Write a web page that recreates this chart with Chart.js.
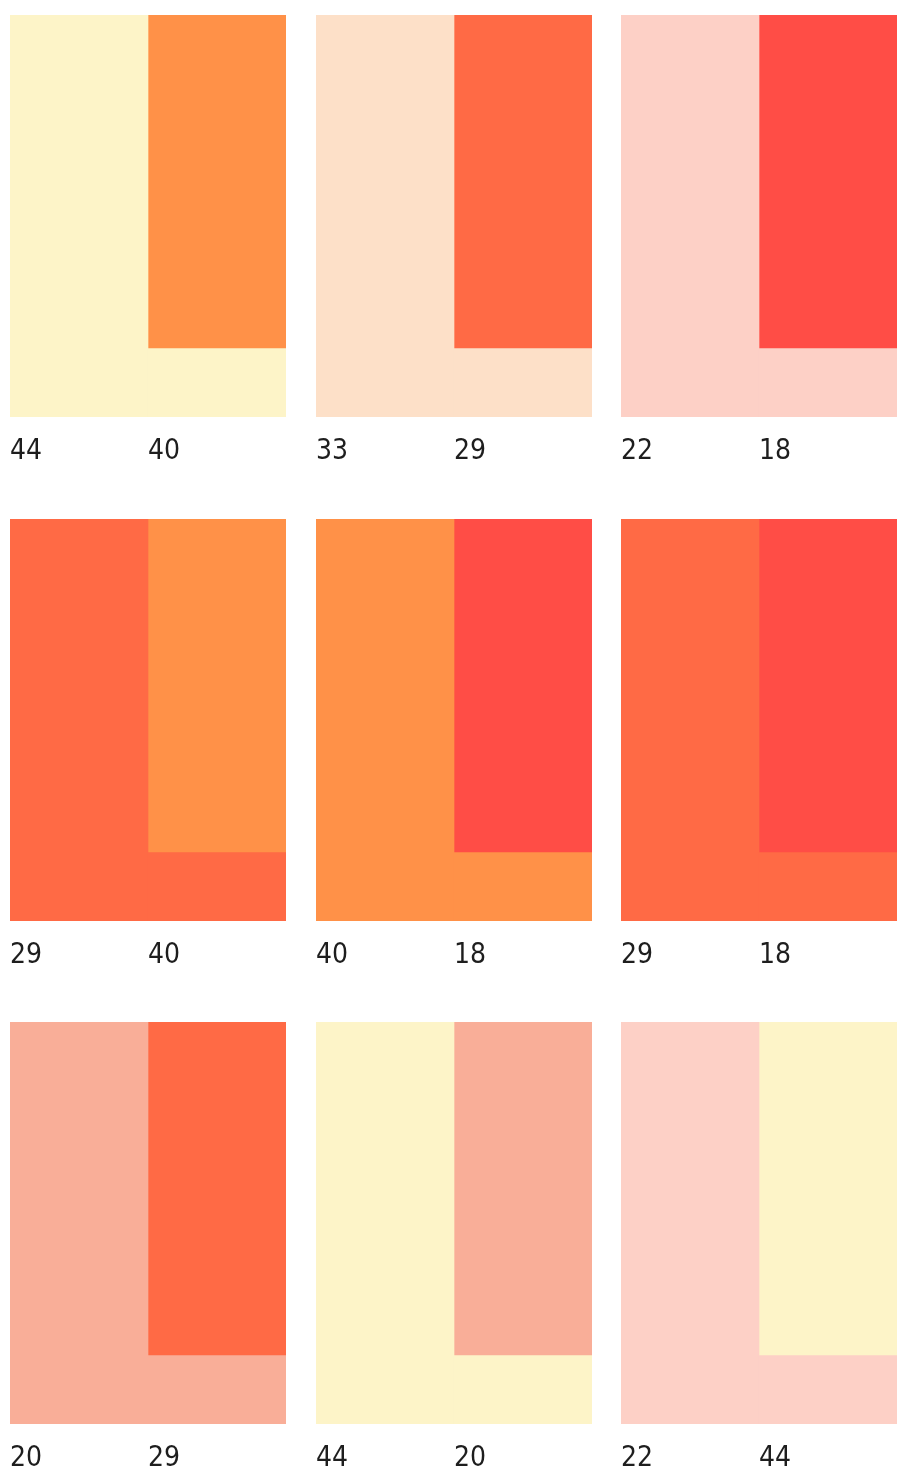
<!DOCTYPE html>
<html>
<head>
<meta charset="utf-8">
<script src="https://cdn.jsdelivr.net/npm/chart.js@4/dist/chart.umd.min.js"></script>
<style>
html, body { margin: 0; padding: 0; background: #ffffff; width: 898px; height: 1480px; overflow: hidden; }
.panel { position: absolute; }
canvas { display: block; }
</style>
</head>
<body>
<script>
// ---- data ----
const outerValues = [44, 33, 22, 29, 40, 29, 20, 44, 22];
const innerValues = [40, 29, 18, 40, 18, 18, 29, 20, 44];
const innerShare = 83;          // height of the inner block, % of the panel
const fullHeight = 100;

// ---- styles ----
const swatchColors = {
  44: '#FDF4C8',
  40: '#FF9148',
  33: '#FDE0C8',
  29: '#FF6A45',
  22: '#FDD0C6',
  18: '#FF4D46',
  20: '#F9AE98'
};

// ---- layout ----
const columnLefts = [10, 316, 621];
const rowTops = [15, 519, 1022];
const panelWidth = 276;
const panelHeight = 402;
const labelArea = 60;
const tickPad = 18;   // Chart.js also adds tick padding on left/right of the axis
const labelFont = '"Liberation Sans Narrow", "DejaVu Sans Condensed", sans-serif';

outerValues.forEach((outer, i) => {
  const inner = innerValues[i];
  const div = document.createElement('div');
  div.className = 'panel';
  div.style.left = (columnLefts[i % 3] - tickPad) + 'px';
  div.style.top = rowTops[Math.floor(i / 3)] + 'px';
  const canvas = document.createElement('canvas');
  const cw = panelWidth + 2 * tickPad;
  const ch = panelHeight + labelArea;
  canvas.width = cw;
  canvas.height = ch;
  canvas.style.width = cw + 'px';
  canvas.style.height = ch + 'px';
  div.appendChild(canvas);
  document.body.appendChild(div);

  new Chart(canvas, {
    type: 'bar',
    data: {
      datasets: [
        {
          label: 'outer ' + outer,
          data: [{ x: 0.5, y: fullHeight }, { x: 1.5, y: fullHeight - innerShare }],
          backgroundColor: swatchColors[outer],
          borderWidth: 0,
          barPercentage: 1,
          categoryPercentage: 1
        },
        {
          label: 'inner ' + inner,
          data: [{ x: 0.5, y: 0 }, { x: 1.5, y: innerShare }],
          backgroundColor: swatchColors[inner],
          borderWidth: 0,
          barPercentage: 1,
          categoryPercentage: 1
        }
      ]
    },
    options: {
      responsive: false,
      animation: false,
      devicePixelRatio: 1,
      layout: { padding: 0 },
      plugins: { legend: { display: false }, tooltip: { enabled: false }, title: { display: false } },
      scales: {
        x: {
          type: 'linear',
          min: 0,
          max: 2,
          offset: false,
          stacked: true,
          grid: { display: false, drawTicks: false },
          border: { display: false },
          ticks: {
            stepSize: 1,
            align: 'start',
            padding: tickPad,
            autoSkip: false,
            maxRotation: 0,
            minRotation: 0,
            color: '#1e1e1e',
            font: { family: labelFont, size: 28 },
            callback: (v) => v === 0 ? String(outer) : (v === 1 ? String(inner) : '')
          },
          afterFit: (s) => { s.height = labelArea; }
        },
        y: {
          display: false,
          stacked: true,
          min: 0,
          max: fullHeight
        }
      }
    }
  });
});
</script>
</body>
</html>
